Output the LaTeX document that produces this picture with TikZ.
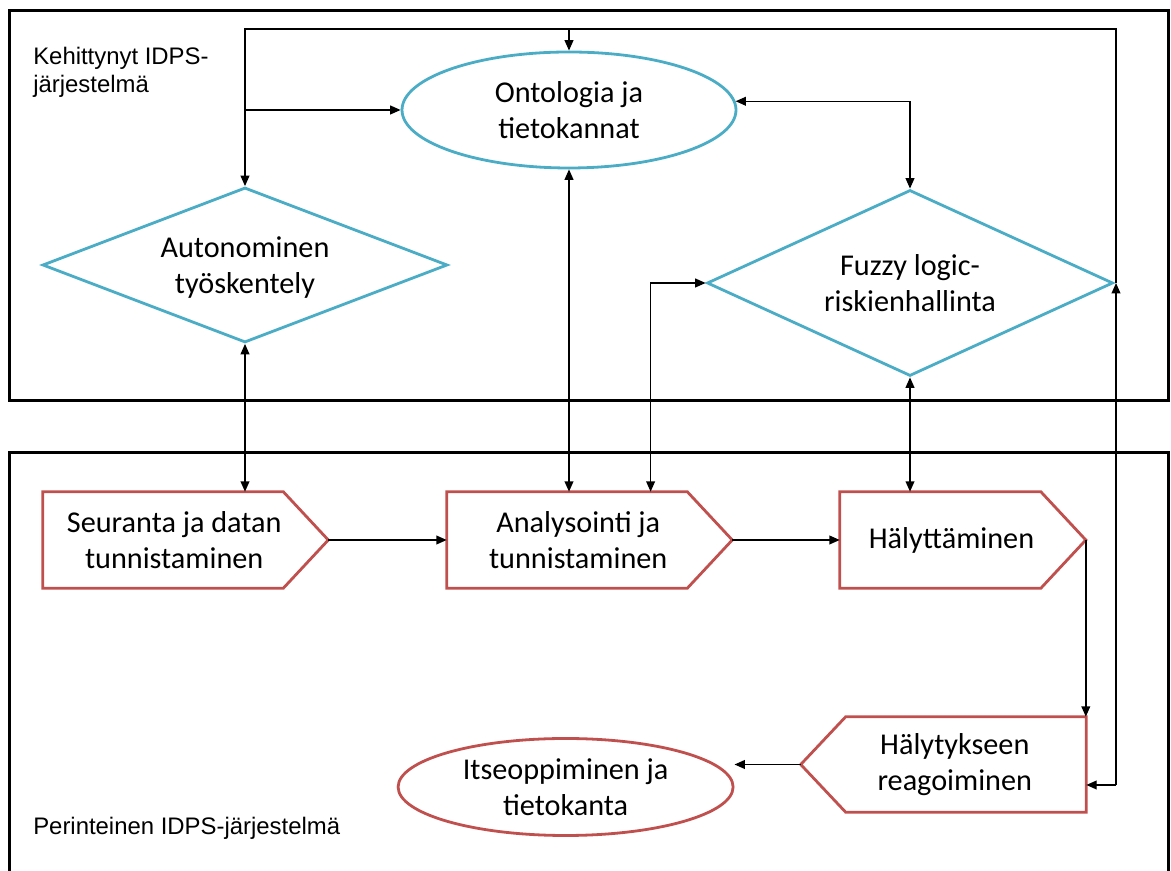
\documentclass[tikz,border=0pt]{standalone}
\usepackage{fontspec}
\setmainfont{Carlito}
\newfontfamily\labelfont{Liberation Sans}
\usetikzlibrary{arrows.meta,shapes.geometric,calc}
\definecolor{ontoblue}{RGB}{75,172,198}
\definecolor{procred}{RGB}{192,80,77}
\tikzset{
  sysframe/.style={line width=0.075cm},
  nodefont/.style={font=\fontsize{21.5}{25.6}\selectfont},
  blueshape/.style={draw=ontoblue,line width=0.07cm,inner sep=0pt,align=center,nodefont},
  redshape/.style={draw=procred,line width=0.07cm,inner sep=0pt,align=center,nodefont},
  procbox/.style={rectangle,inner sep=0pt,minimum height=2.4cm,align=center,nodefont},
  redline/.style={draw=procred,line width=0.07cm},
  conn/.style={line width=0.035cm,>={Triangle[length=0.26cm,width=0.22cm]}},
  syslabel/.style={font=\labelfont\fontsize{17}{20}\selectfont,align=left,anchor=west,inner sep=0pt}
}
\begin{document}
\begin{tikzpicture}
    \useasboundingbox (0,0) rectangle (29.275,21.775);
    \draw[sysframe] (0.225,11.75) rectangle (29.22,21.5); % upper system
    \draw[sysframe] (0.225,0) -- (0.225,10.45) -- (29.22,10.45) -- (29.22,0); % lower system
    \node[syslabel] (advlabel) at (0.825,19.97) {Kehittynyt IDPS-\\järjestelmä}; % upper label
    \node[syslabel] (tradlabel) at (0.825,1.075) {Perinteinen IDPS-järjestelmä}; % lower label
    % upper shapes
    \node[blueshape,ellipse,minimum width=8.35cm,minimum height=2.9cm] (onto) at (14.225,19.025) {Ontologia ja\\tietokannat};
    \node[blueshape,diamond,aspect=2.61,text depth=0pt,minimum width=10.125cm,minimum height=3.875cm] (auto) at (6.125,15.15) {Autonominen\\työskentely};
    \node[blueshape,diamond,aspect=2.18,minimum width=10.15cm,minimum height=4.65cm] (fuzzy) at (22.75,14.7) {Fuzzy logic-\\riskienhallinta};
    % lower shapes (box = body + half of the point)
    \node[procbox,minimum width=6.5625cm] (seur) at (4.356,8.275) {Seuranta ja datan\\tunnistaminen};
    \node[procbox,minimum width=6.5625cm] (anal) at (14.456,8.275) {Analysointi ja\\tunnistaminen};
    \node[procbox,minimum width=5.575cm] (haly) at (23.788,8.275) {Hälyttäminen};
    \node[procbox,minimum width=6.5625cm,minimum height=2.375cm] (reag) at (23.869,2.6625) {Hälytykseen\\reagoiminen};
    \node[redshape,ellipse,minimum width=8.375cm,minimum height=2.425cm] (itse) at (14.14,2.1) {Itseoppiminen ja\\tietokanta};
    \draw[redline] (seur.north west) -- ($(seur.north east)+(-0.5625,0)$) -- ($(seur.east)+(0.5625,0)$) coordinate (seurtip) -- ($(seur.south east)+(-0.5625,0)$) -- (seur.south west) -- cycle;
    \draw[redline] (anal.north west) -- ($(anal.north east)+(-0.5625,0)$) -- ($(anal.east)+(0.5625,0)$) coordinate (analtip) -- ($(anal.south east)+(-0.5625,0)$) -- (anal.south west) -- cycle;
    \draw[redline] (haly.north west) -- ($(haly.north east)+(-0.5625,0)$) -- ($(haly.east)+(0.5625,0)$) coordinate (halytip) -- ($(haly.south east)+(-0.5625,0)$) -- (haly.south west) -- cycle;
    \draw[redline] (reag.north east) -- ($(reag.north west)+(0.5625,0)$) -- ($(reag.west)+(-0.5625,0)$) coordinate (reagtip) -- ($(reag.south west)+(0.5625,0)$) -- (reag.south east) -- cycle;
    % feedback loop
    \coordinate (rt) at (27.9,21.05);
    \coordinate (rb) at (27.9,2.15);
    \draw[conn,->] (rb) -- (rb -| reag.east);
    \draw[conn,->] (rb) -- (rb |- fuzzy.east);
    \draw[conn,->] (rb |- fuzzy.east) -- (rt) -- (rt -| auto.north) -- (auto.north);
    \draw[conn,->] (rt -| onto.north) -- (onto.north);
    \draw[conn,->] (auto.north |- onto.west) -- (onto.west);
    % between the systems
    \coordinate (fzl) at ($(fuzzy.west)+(-1.375,0)$);
    \draw[conn,<->] (onto.3) -| (fuzzy.north);
    \draw[conn,<->] (onto.south) -- (onto.south |- anal.north);
    \draw[conn,<->] (auto.south) -- (auto.south |- seur.north);
    \draw[conn,<->] (fuzzy.west) -- (fzl) -- (fzl |- anal.north);
    \draw[conn,<->] (fuzzy.south) -- (fuzzy.south |- haly.north);
    % process chain
    \draw[conn,->] (seurtip) -- (anal.west);
    \draw[conn,->] (analtip) -- (haly.west);
    \draw[conn,->] (halytip) -- (halytip |- reag.north east);
    \draw[conn,->] (reagtip) -- (reagtip -| itse.east);
\end{tikzpicture}
\end{document}
